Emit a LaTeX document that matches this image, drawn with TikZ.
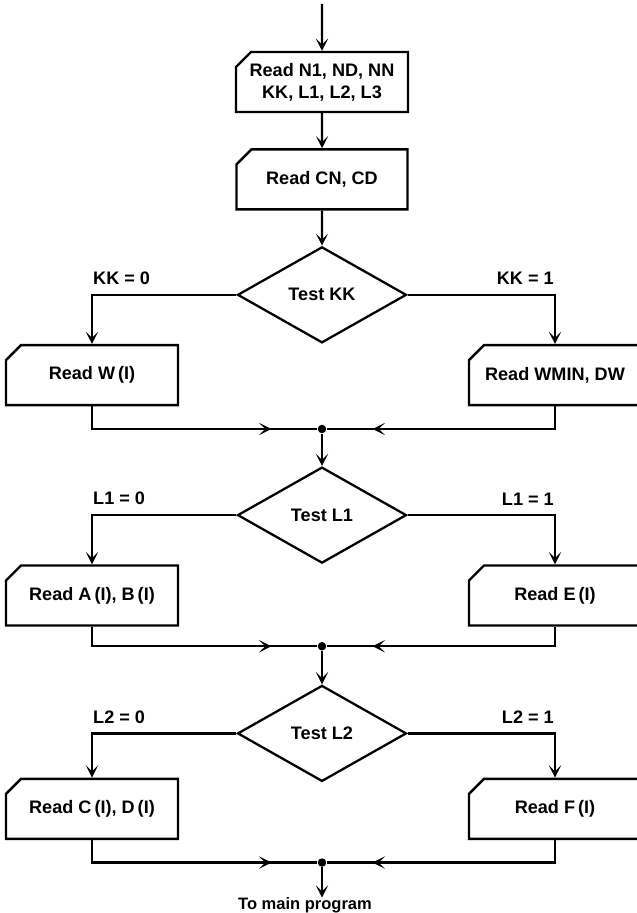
\documentclass[tikz,border=0pt]{standalone}
\usepackage{fontspec}
\setmainfont{Liberation Sans}
\usetikzlibrary{shapes.geometric, shapes.misc, arrows.meta, positioning, decorations.markings}
\tikzset{
    readbox/.style={draw, chamfered rectangle, chamfered rectangle corners=north west, chamfered rectangle xsep=0.15cm, chamfered rectangle ysep=0.15cm, line width=1.4pt, minimum height=1.2cm, minimum width=3.44cm, inner sep=1pt, align=center, font=\fontsize{10.3}{12.4}\selectfont\bfseries},
    test/.style={draw, diamond, line width=1.3pt, inner sep=0pt, minimum width=3.38cm, minimum height=1.92cm, align=center, font=\fontsize{10.3}{12.4}\selectfont\bfseries},
    flow/.style={draw, -{Stealth[length=7pt, width=7pt, inset=3.5pt]}, line width=1.4pt},
    merge/.style={draw, line width=1.4pt, postaction={decorate}, decoration={markings, mark=at position -0.92cm with {\arrow{Stealth[length=7pt, width=7pt, inset=3.5pt]}}}},
    dot/.style={circle, fill, inner sep=0pt, minimum size=0.17cm},
    lbl/.style={inner sep=0pt, font=\fontsize{10.3}{12.4}\selectfont\bfseries}
}
\begin{document}
\begin{tikzpicture}[node distance=0.7cm]
    \useasboundingbox (-6.44,1.64) rectangle (6.28,-16.62);
    % input cards
    \node [readbox] (rdN) {Read N1, ND, NN\\KK, L1, L2, L3};
    \coordinate [above=0.94cm of rdN.north] (top);
    \node [readbox, below=of rdN, minimum width=3.42cm] (rdC) {Read CN, CD};
    % first test
    \node [test, below=of rdC] (tKK) {Test KK};
    \node [readbox, anchor=north] (rdW) at ([xshift=-4.6cm]tKK.south) {Read W\,(I)};
    \node [readbox, anchor=north] (rdWM) at ([xshift=4.66cm]tKK.south) {Read WMIN, DW};
    \node [dot] (j1) at ([yshift=-1.7cm]tKK.south) {};
    % second test
    \node [test, below=0.74cm of j1.center] (tL1) {Test L1};
    \node [readbox, anchor=north] (rdAB) at ([xshift=-4.6cm]tL1.south) {Read A\,(I), B\,(I)};
    \node [readbox, anchor=north] (rdE) at ([xshift=4.66cm]tL1.south) {Read E\,(I)};
    \node [dot] (j2) at ([yshift=-1.64cm]tL1.south) {};
    % third test
    \node [test, below=0.76cm of j2.center] (tL2) {Test L2};
    \node [readbox, anchor=north] (rdCD) at ([xshift=-4.6cm, yshift=0.1cm]tL2.south) {Read C\,(I), D\,(I)};
    \node [readbox, anchor=north] (rdF) at ([xshift=4.66cm, yshift=0.1cm]tL2.south) {Read F\,(I)};
    \node [dot] (j3) at ([yshift=-1.6cm]tL2.south) {};
    \node [lbl, font=\fontsize{9.4}{11}\selectfont\bfseries, below=0.7cm of j3.center, xshift=-0.34cm] (out) {To main program};

    \draw [flow] (top) -- (rdN);
    \draw [flow] (rdN) -- (rdC);
    \draw [flow] (rdC) -- (tKK);
    \draw [flow] (tKK.west) -| node [lbl, pos=0.5, anchor=south west, yshift=5pt] {KK = 0} (rdW.north);
    \draw [flow] (tKK.east) -| node [lbl, pos=0.5, anchor=south east, yshift=5pt] {KK = 1} (rdWM.north);
    \draw [merge] (rdW.south) |- (j1);
    \draw [merge] (rdWM.south) |- (j1);
    \draw [flow] (j1) -- (tL1);
    \draw [flow] (tL1.west) -| node [lbl, pos=0.5, anchor=south west, yshift=5pt] {L1 = 0} (rdAB.north);
    \draw [flow] (tL1.east) -| node [lbl, pos=0.5, anchor=south east, yshift=5pt] {L1 = 1} (rdE.north);
    \draw [merge] (rdAB.south) |- (j2);
    \draw [merge] (rdE.south) |- (j2);
    \draw [flow] (j2) -- (tL2);
    \draw [flow] (tL2.west) -| node [lbl, pos=0.5, anchor=south west, yshift=5pt] {L2 = 0} (rdCD.north);
    \draw [flow] (tL2.east) -| node [lbl, pos=0.5, anchor=south east, yshift=5pt] {L2 = 1} (rdF.north);
    \draw [merge] (rdCD.south) |- (j3);
    \draw [merge] (rdF.south) |- (j3);
    \draw [flow] (j3) -- (j3 |- out.north);
\end{tikzpicture}
\end{document}
